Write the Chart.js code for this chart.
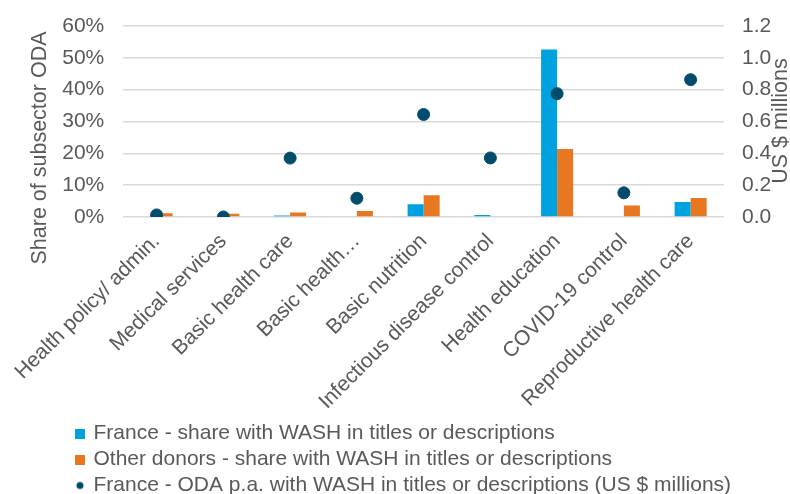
<!DOCTYPE html>
<html>
<head>
<meta charset="utf-8">
<script src="https://cdn.jsdelivr.net/npm/chart.js@4.4.0/dist/chart.umd.min.js"></script>
<style>
  html, body { margin: 0; padding: 0; background: #ffffff; }
  #wrap { width: 790px; height: 494px; position: relative; }
</style>
</head>
<body>
<div id="wrap"><canvas id="washChart"></canvas></div>
<script>
// Health subsectors
const categories = [
    'Health policy/ admin.',
    'Medical services',
    'Basic health care',
    'Basic health…',
    'Basic nutrition',
    'Infectious disease control',
    'Health education',
    'COVID-19 control',
    'Reproductive health care'
];

// Share of subsector ODA (%)
const franceShare = [0, 0, 0.5, 0, 4.0, 0.6, 52.6, 0, 4.7];
const otherShare = [1.2, 1.0, 1.4, 1.9, 6.8, 0, 21.4, 3.6, 6.0];

// France ODA p.a. with WASH (US $ millions)
const franceOda = [0.013, 0.0, 0.37, 0.118, 0.644, 0.371, 0.775, 0.152, 0.863];

const leftTicks = [0, 10, 20, 30, 40, 50, 60];
const rightTicks = [0, 0.2, 0.4, 0.6, 0.8, 1.0, 1.2];

const seriesNames = [
    'France - share with WASH in titles or descriptions',
    'Other donors - share with WASH in titles or descriptions',
    'France - ODA p.a. with WASH in titles or descriptions (US $ millions)'
];

const blue = '#00A1DF';
const orange = '#E87722';
const navy = '#004C6C';
const textGrey = '#595959';
const fontFamily = '"Liberation Sans", Arial, sans-serif';
const fontSize = 21;

// small canvases used as legend markers
function makeMarker(color, round) {
    const c = document.createElement('canvas');
    c.width = 10;
    c.height = 10;
    const g = c.getContext('2d');
    g.fillStyle = color;
    if (round) {
        g.beginPath();
        g.arc(5, 5, 3.5, 0, Math.PI * 2);
        g.fill();
    } else {
        g.fillRect(0, 0, 10, 10);
    }
    return c;
}
const markers = [makeMarker(blue, false), makeMarker(orange, false), makeMarker(navy, true)];

// axis titles drawn by hand (Excel-style placement), legend nudged into place
const axisTitles = {
    id: 'axisTitles',
    afterLayout(chart) {
        chart.legend.left = 72;
        chart.legend.top += 6;
    },
    afterDraw(chart) {
        const ctx = chart.ctx;
        ctx.save();
        ctx.fillStyle = textGrey;
        ctx.font = '21.5px ' + fontFamily;
        ctx.textAlign = 'center';
        ctx.textBaseline = 'middle';
        ctx.translate(40, 148);
        ctx.rotate(-Math.PI / 2);
        ctx.fillText('Share of subsector ODA', 0, 0);
        ctx.restore();

        ctx.save();
        ctx.fillStyle = textGrey;
        ctx.font = '21.5px ' + fontFamily;
        ctx.textAlign = 'center';
        ctx.textBaseline = 'middle';
        ctx.translate(781, 121);
        ctx.rotate(-Math.PI / 2);
        ctx.fillText('US $ millions', 0, 0);
        ctx.restore();
    }
};

const ctx = document.getElementById('washChart');

new Chart(ctx, {
    type: 'bar',
    data: {
        labels: categories,
        datasets: [
            {
                label: seriesNames[0],
                data: franceShare,
                backgroundColor: blue,
                yAxisID: 'y'
            },
            {
                label: seriesNames[1],
                data: otherShare,
                backgroundColor: orange,
                yAxisID: 'y'
            },
            {
                type: 'line',
                label: seriesNames[2],
                data: franceOda,
                showLine: false,
                backgroundColor: navy,
                borderColor: navy,
                pointRadius: 6,
                pointHoverRadius: 6,
                yAxisID: 'y1',
                order: -1
            }
        ]
    },
    options: {
        responsive: true,
        maintainAspectRatio: false,
        animation: false,
        layout: {
            padding: { left: 16, right: 12, top: 26, bottom: -6 }
        },
        datasets: {
            bar: {
                categoryPercentage: 0.48,
                barPercentage: 1.0
            }
        },
        scales: {
            x: {
                grid: { display: false, drawTicks: false },
                border: { display: false },
                ticks: {
                    color: textGrey,
                    font: { size: fontSize, family: fontFamily },
                    maxRotation: 45,
                    minRotation: 45,
                    autoSkip: false,
                    padding: 12
                },
                afterFit(scale) {
                    scale.height = 195;
                }
            },
            y: {
                position: 'left',
                min: 0,
                max: 60,
                afterBuildTicks(scale) {
                    scale.ticks = leftTicks.map(v => ({ value: v }));
                },
                grid: { color: '#D9D9D9', lineWidth: 1.5, drawTicks: false },
                border: { display: false },
                ticks: {
                    color: textGrey,
                    font: { size: fontSize, family: fontFamily },
                    padding: 19,
                    callback: function(value) {
                        return value + '%';
                    }
                },
                afterFit(scale) {
                    scale.width = 122 - 16;
                    scale.paddingTop = 0;
                    scale.paddingBottom = 0;
                }
            },
            y1: {
                position: 'right',
                min: 0,
                max: 1.2,
                afterBuildTicks(scale) {
                    scale.ticks = rightTicks.map(v => ({ value: v }));
                },
                grid: { display: false, drawTicks: false },
                border: { display: false },
                ticks: {
                    color: textGrey,
                    font: { size: fontSize, family: fontFamily },
                    padding: 18,
                    callback: function(value) {
                        return value.toFixed(1);
                    }
                },
                afterFit(scale) {
                    scale.width = 790 - 12 - 724;
                    scale.paddingTop = 0;
                    scale.paddingBottom = 0;
                }
            }
        },
        plugins: {
            tooltip: { enabled: false },
            legend: {
                position: 'bottom',
                align: 'start',
                labels: {
                    color: textGrey,
                    font: { size: fontSize, family: fontFamily, lineHeight: 22 / 21 },
                    usePointStyle: true,
                    boxHeight: 6,
                    pointStyleWidth: 6,
                    padding: 5,
                    generateLabels: function(chart) {
                        return seriesNames.map((name, i) => ({
                            text: name,
                            fillStyle: [blue, orange, navy][i],
                            strokeStyle: 'transparent',
                            lineWidth: 0,
                            pointStyle: markers[i],
                            hidden: false,
                            datasetIndex: i,
                            fontColor: textGrey
                        }));
                    }
                }
            }
        }
    },
    plugins: [axisTitles]
});
</script>
</body>
</html>
